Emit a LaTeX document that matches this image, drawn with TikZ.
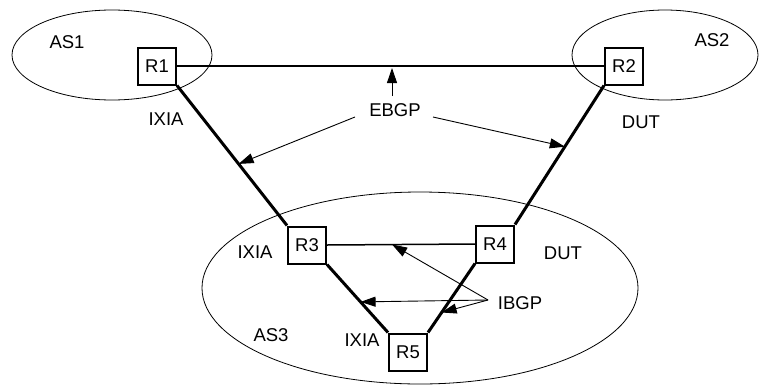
\documentclass[tikz,border=0pt]{standalone}
\usepackage{fontspec}
\setmainfont{Liberation Sans}
\usetikzlibrary{arrows.meta,calc}
\begin{document}
\begin{tikzpicture}[x=1pt,y=-1pt,
  router/.style={draw,line width=2pt,minimum width=38pt,minimum height=37pt,inner sep=0pt,fill=white,font=\fontsize{18.5}{20}\selectfont},
  lbl/.style={inner sep=1pt,font=\fontsize{18.5}{20}\selectfont},
  as/.style={draw,line width=0.8pt},
  thickline/.style={line width=3pt},
  arr/.style={line width=0.9pt,-{Triangle[length=15pt,width=10pt]}},
  every node/.style={text=black}]
\useasboundingbox (0,0) rectangle (760,386);
% AS ellipses
\draw[as] (112,55) ellipse [x radius=100, y radius=45];
\draw[as] (665,55) ellipse [x radius=93, y radius=45];
\draw[as] (420,288) ellipse [x radius=218, y radius=96];
% routers
\node[router] (r1) at (157,66) {R1};
\node[router] (r2) at (624,66) {R2};
\node[router] (r3) at (307,245) {R3};
\node[router] (r4) at (495,244) {R4};
\node[router] (r5) at (408,352) {R5};
% links
\draw[line width=2pt] (r1.east) -- (r2.west);
\draw[line width=1.5pt] (r3.east) -- (r4.west);
\draw[thickline] (r1.south east) -- (r3.north west);
\draw[thickline] (r2.south west) -- (r4.north east);
\draw[thickline] (r3.south east) -- (r5.north west);
\draw[thickline] (r4.south west) -- (r5.north east);
% labels
\node[lbl] (as1) at (67,42) {AS1};
\node[lbl] (as2) at (712,40) {AS2};
\node[lbl] (as3) at (271,335) {AS3};
\node[lbl] (ix1) at (166,119) {IXIA};
\node[lbl] (du1) at (641,122) {DUT};
\node[lbl] (ix3) at (255,252) {IXIA};
\node[lbl] (du4) at (563,253) {DUT};
\node[lbl] (ix5) at (362,340) {IXIA};
\node[lbl] (ebgp) at (395,110) {EBGP};
\node[lbl] (ibgp) at (520,303) {IBGP};
% annotation arrows
\coordinate (e1) at ($(r1.south east)!0.56!(r3.north west)$);
\coordinate (e2) at ($(r2.south west)!0.44!(r4.north east)$);
\coordinate (i1) at ($(r3.east)!0.44!(r4.west)$);
\coordinate (i2) at ($(r3.south east)!0.55!(r5.north west)$);
\coordinate (i3) at ($(r4.south west)!0.71!(r5.north east)$);
\coordinate (eup) at (392,96);
\coordinate (etop) at (392,68);
\coordinate (eleft) at (355,117);
\coordinate (eright) at (433,117);
\coordinate (istart) at (488,300);
\draw[arr] (eup) -- (etop);
\draw[arr] (eleft) -- (e1);
\draw[arr] (eright) -- (e2);
\draw[arr] (istart) -- (i1);
\draw[arr] (istart) -- (i2);
\draw[arr] (istart) -- (i3);
\end{tikzpicture}
\end{document}
